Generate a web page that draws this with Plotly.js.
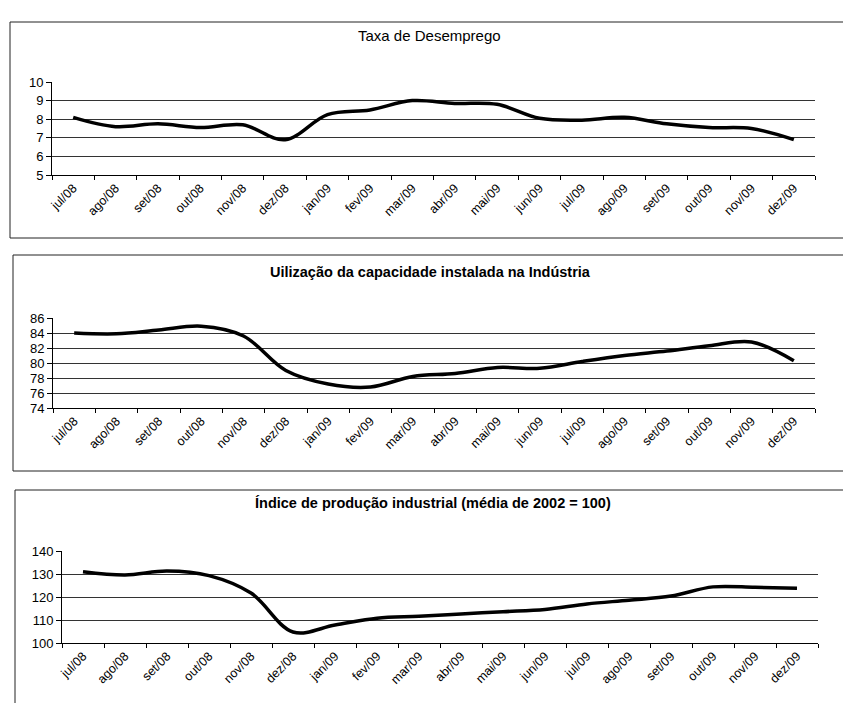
<!DOCTYPE html>
<html>
<head>
<meta charset="utf-8">
<script src="https://cdn.plot.ly/plotly-3.0.1.min.js"></script>
<style>
html,body{margin:0;padding:0;background:#fff;}
#chart{width:843px;height:703px;}
</style>
</head>
<body>
<div id="chart"></div>
<script>
const months = ['jul/08','ago/08','set/08','out/08','nov/08','dez/08','jan/09','fev/09','mar/09','abr/09','mai/09','jun/09','jul/09','ago/09','set/09','out/09','nov/09','dez/09'];
const desemprego = [8.1, 7.6, 7.75, 7.55, 7.7, 6.9, 8.25, 8.5, 9.0, 8.85, 8.8, 8.05, 7.95, 8.1, 7.75, 7.55, 7.5, 6.9];
const capacidade = [84.0, 83.9, 84.4, 84.9, 83.6, 79.0, 77.2, 76.8, 78.2, 78.6, 79.4, 79.3, 80.2, 81.0, 81.6, 82.3, 82.8, 80.3];
const producao = [131.0, 129.6, 131.3, 129.3, 121.7, 104.8, 107.8, 110.8, 111.6, 112.6, 113.6, 114.6, 117.0, 118.6, 120.4, 124.4, 124.2, 123.8];
const titles = ['Taxa de Desemprego', 'Uilização da capacidade instalada na Indústria', 'Índice de produção industrial (média de 2002 = 100)'];

const W = 843, H = 703;
const px = v => v / W;
const py = v => 1 - v / H;

const lineStyle = {color: '#000', width: 3.5, shape: 'spline', smoothing: 1};
const traces = [
  {x: months, y: desemprego, xaxis: 'x', yaxis: 'y', type: 'scatter', mode: 'lines', line: lineStyle, hoverinfo: 'x+y'},
  {x: months, y: capacidade, xaxis: 'x2', yaxis: 'y2', type: 'scatter', mode: 'lines', line: lineStyle, hoverinfo: 'x+y'},
  {x: months, y: producao, xaxis: 'x3', yaxis: 'y3', type: 'scatter', mode: 'lines', line: lineStyle, hoverinfo: 'x+y'}
];

const FF = 'Liberation Sans, Arial, sans-serif';
const tickFont = {family: FF, size: 12.5, color: '#000'};
function xax(anchor, d0, d1) {
  return {
    type: 'category', anchor: anchor, domain: [px(d0), px(d1)],
    range: [-0.5, 17.5], showgrid: false, showline: true, linecolor: '#000', linewidth: 1,
    ticks: 'outside', tickson: 'boundaries', ticklen: 4, tickcolor: '#000',
    tickangle: -45, tickfont: tickFont, zeroline: false, fixedrange: true
  };
}
function yax(anchor, top, bottom, lo, hi, dt, grid) {
  return {
    anchor: anchor, domain: [py(bottom), py(top)], range: [lo, hi], dtick: dt, tick0: lo,
    showgrid: false, showline: true, linecolor: '#000', linewidth: 1,
    ticks: 'outside', ticklen: 5, tickcolor: '#000', zeroline: false, fixedrange: true,
    tickfont: {family: FF, size: 13, color: '#000'},
    minor: {tickmode: 'array', tickvals: grid, showgrid: true, gridcolor: '#333', gridwidth: 1, ticks: ''}
  };
}

const layout = {
  width: W, height: H, margin: {l: 0, r: 0, t: 0, b: 0},
  paper_bgcolor: '#fff', plot_bgcolor: 'rgba(0,0,0,0)', showlegend: false,
  font: {family: FF, color: '#000'},
  xaxis: xax('y', 52, 815),
  yaxis: yax('x', 82, 175, 5, 10, 1, [6, 7, 8, 9]),
  xaxis2: xax('y2', 53, 815),
  yaxis2: yax('x2', 318, 408, 74, 86, 2, [76, 78, 80, 82, 84]),
  xaxis3: xax('y3', 62, 818),
  yaxis3: yax('x3', 551, 643, 100, 140, 10, [110, 120, 130]),
  annotations: [
    {text: titles[0], xref: 'paper', yref: 'paper', x: px(429), y: py(35), showarrow: false, xanchor: 'center', yanchor: 'middle', font: {family: FF, size: 15, color: '#000'}},
    {text: '<b>' + titles[1] + '</b>', xref: 'paper', yref: 'paper', x: px(430), y: py(272), showarrow: false, xanchor: 'center', yanchor: 'middle', font: {family: FF, size: 14.5, color: '#000'}},
    {text: '<b>' + titles[2] + '</b>', xref: 'paper', yref: 'paper', x: px(433), y: py(503), showarrow: false, xanchor: 'center', yanchor: 'middle', font: {family: FF, size: 14.5, color: '#000'}}
  ],
  shapes: [
    {type: 'rect', xref: 'paper', yref: 'paper', x0: px(10), x1: 1.05, y0: py(238), y1: py(22), line: {color: '#222', width: 1}},
    {type: 'rect', xref: 'paper', yref: 'paper', x0: px(13), x1: 1.05, y0: py(471), y1: py(255), line: {color: '#222', width: 1}},
    {type: 'rect', xref: 'paper', yref: 'paper', x0: px(15), x1: 1.05, y0: -0.05, y1: py(490), line: {color: '#222', width: 1}}
  ]
};

Plotly.newPlot('chart', traces, layout, {displayModeBar: false, staticPlot: true});
</script>
</body>
</html>
